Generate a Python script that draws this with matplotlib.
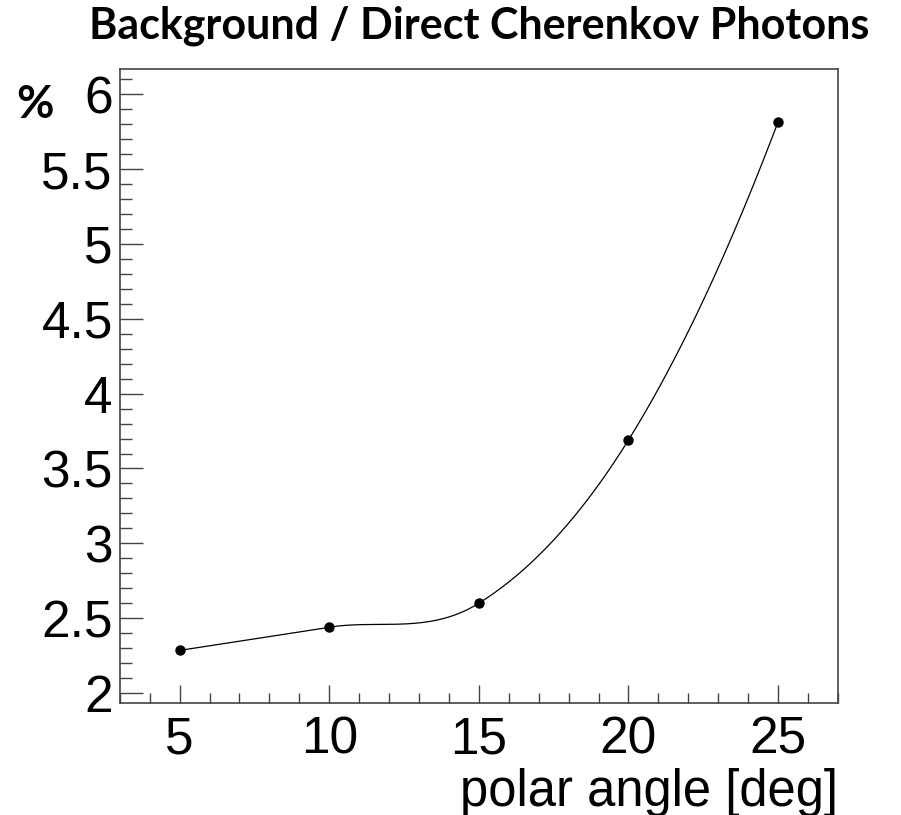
import numpy as np
import matplotlib
matplotlib.use('Agg')
import matplotlib.pyplot as plt
from matplotlib.ticker import MultipleLocator

# polar angle [deg] and background fraction [%]
angle = [5, 10, 15, 20, 25]
bkg_pct = [2.285, 2.44, 2.60, 3.69, 5.815]

title = 'Background / Direct Cherenkov Photons'
xlabel = 'polar angle [deg]'
ylabel = '%'


def smooth_curve(x, y, n=60):
    # cubic Hermite through the points, finite-difference tangents
    x = np.asarray(x, float)
    y = np.asarray(y, float)
    m = np.empty_like(y)
    m[1:-1] = (y[2:] - y[:-2])/(x[2:] - x[:-2])
    # end tangents from a parabola through the last three points
    m[0] = 2*(y[1] - y[0])/(x[1] - x[0]) - m[1]
    m[-1] = 2*(y[-1] - y[-2])/(x[-1] - x[-2]) - m[-2]
    xs, ys = [], []
    for i in range(len(x) - 1):
        h = x[i+1] - x[i]
        t = np.linspace(0, 1, n, endpoint=(i == len(x) - 2))
        h00 = 2*t**3 - 3*t**2 + 1
        h10 = t**3 - 2*t**2 + t
        h01 = -2*t**3 + 3*t**2
        h11 = t**3 - t**2
        xs.append(x[i] + h*t)
        ys.append(h00*y[i] + h10*h*m[i] + h01*y[i+1] + h11*h*m[i+1])
    return np.concatenate(xs), np.concatenate(ys)


plt.rcParams['font.family'] = ['Liberation Sans', 'DejaVu Sans']

fig = plt.figure(figsize=(9.01, 8.15), dpi=100)
ax = fig.add_axes([0.1329, 0.1371, 0.930 - 0.1329, 0.9153 - 0.1371])

xs, ys = smooth_curve(angle, bkg_pct)
ax.plot(xs, ys, '-', color='black', lw=0.9)
ax.plot(angle, bkg_pct, 'o', color='black', ms=6.5)

# 10% margins around the data range
xr = max(angle) - min(angle)
yr = max(bkg_pct) - min(bkg_pct)
ax.set_xlim(min(angle) - 0.1*xr, max(angle) + 0.1*xr)
ax.set_ylim(min(bkg_pct) - 0.1*yr, max(bkg_pct) + 0.1*yr)

ax.xaxis.set_major_locator(MultipleLocator(5))
ax.xaxis.set_minor_locator(MultipleLocator(1))
ax.yaxis.set_major_locator(MultipleLocator(0.5))
ax.yaxis.set_minor_locator(MultipleLocator(0.1))
ax.yaxis.set_major_formatter(matplotlib.ticker.FuncFormatter(lambda v, p: '%g' % v))

ax.tick_params(axis='both', which='both', direction='in', color='#444444',
               width=1.0, top=False, right=False, labelsize=37)
ax.tick_params(axis='x', which='major', length=13, pad=9)
ax.tick_params(axis='x', which='minor', length=7.2)
ax.tick_params(axis='y', which='major', length=16.5, pad=5)
ax.tick_params(axis='y', which='minor', length=8.6)
for s in ax.spines.values():
    s.set_color('#444444')
    s.set_linewidth(1.2)

ax.set_xlabel(xlabel, fontsize=36.5, ha='right', x=1.0, labelpad=2)

fig.text(479/901, 1 - 38/815, title, ha='center', va='baseline',
         fontsize=31, fontweight='bold', family=['Lato', 'DejaVu Sans'])
fig.text(35/901, 1 - 104.5/815, ylabel, ha='center', va='center',
         fontsize=33, fontweight='bold', family=['Lato', 'DejaVu Sans'])

fig.savefig('out.png', dpi=100)
